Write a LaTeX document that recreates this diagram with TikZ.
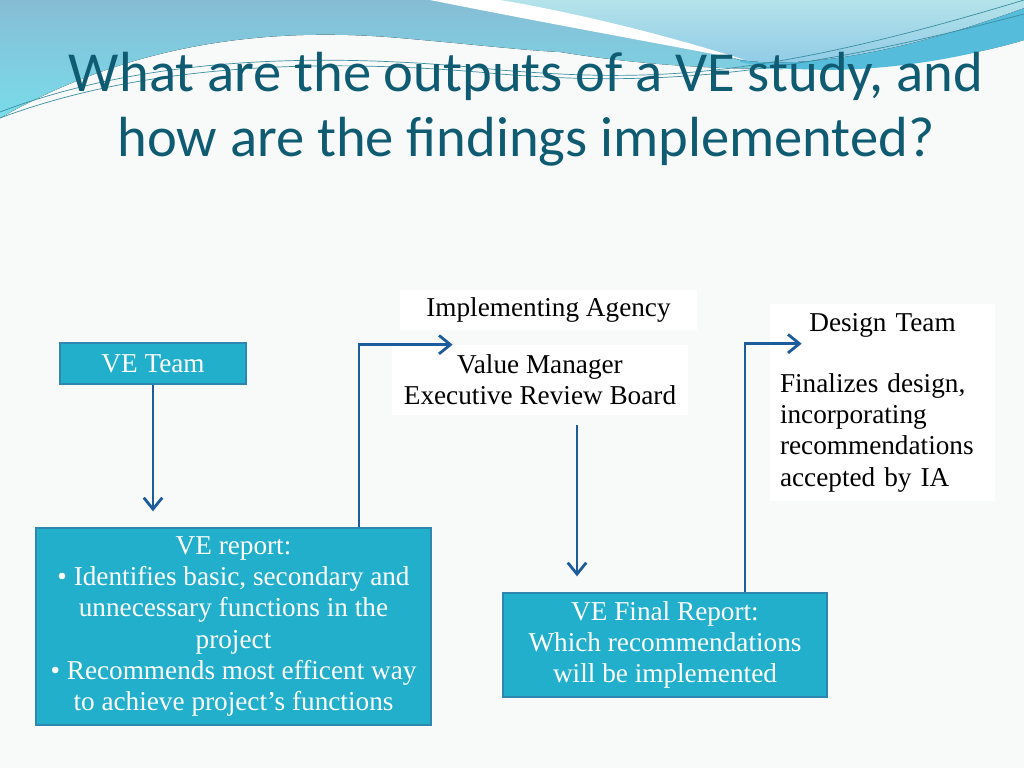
\documentclass[tikz,border=0pt]{standalone}
\usepackage{fontspec}
\usepackage{xcolor}
\usepackage{tikz}
\usetikzlibrary{arrows.meta, positioning, calc}
\setmainfont{Liberation Serif}
\newfontfamily\titlefont{Carlito}
\definecolor{pagewhite}{RGB}{248, 249, 249}
\definecolor{headblue}{RGB}{134, 189, 213}
\definecolor{headcyan}{RGB}{121, 220, 234}
\definecolor{bowltop}{RGB}{180, 227, 234}
\definecolor{bowlbottom}{RGB}{140, 200, 230}
\definecolor{stripcyan}{RGB}{85, 188, 219}
\definecolor{swooshline}{RGB}{58, 143, 160}
\definecolor{titleteal}{RGB}{15, 91, 114}
\definecolor{boxteal}{RGB}{34, 175, 204}
\definecolor{boxedge}{RGB}{47, 134, 174}
\definecolor{arrowblue}{RGB}{29, 92, 155}
\newcommand{\boxfont}{\fontsize{15.5}{17.8}\selectfont}

\begin{document}
\begin{tikzpicture}[x=0.02cm, y=-0.02cm,
    tealbox/.style={rectangle, draw=boxedge, fill=boxteal, line width=0.8pt, text=white, font=\boxfont, align=center},
    plain/.style={rectangle, fill=white, font=\boxfont, align=center},
    arrow/.style={-{Straight Barb[length=6.5pt, width=10.5pt]}, line width=1.6pt, arrowblue}
]
    % Page
    \fill[pagewhite] (0,0) rectangle (1024,768);
    \useasboundingbox (0,0) rectangle (1024,768);

    % Header swoosh
    \fill[top color=headblue, bottom color=headcyan] (0,0) -- (1024,0) -- (1024,40)
        .. controls (900,78) and (700,75) .. (560,52)
        .. controls (520,50) and (480,45) .. (400,38)
        .. controls (250,25) and (120,50) .. (0,118) -- cycle;
    \fill[stripcyan] (740,60) .. controls (830,72) and (950,35) .. (1024,8) -- (1024,40)
        .. controls (900,76) and (800,74) .. (740,62) -- cycle;
    \fill[top color=bowltop, bottom color=bowlbottom] (480,0)
        .. controls (560,12) and (650,32) .. (740,60)
        .. controls (830,72) and (950,35) .. (1024,8) -- (1024,0) -- cycle;
    \fill[white] (430,0) .. controls (540,22) and (640,40) .. (745,60)
        .. controls (650,30) and (560,10) .. (500,0) -- cycle;
    \draw[swooshline, line width=0.4pt] (0,112) .. controls (150,55) and (330,52) .. (500,70)
        .. controls (650,82) and (760,80) .. (1024,0);
    \draw[swooshline, line width=0.4pt] (0,118) .. controls (150,62) and (330,58) .. (500,74)
        .. controls (650,86) and (780,78) .. (1024,14);

    % Title
    \node[font=\titlefont\fontsize{32.2}{37}\selectfont, text=titleteal, align=center] (title) at (526,109)
        {What are the outputs of a VE study, and\\how are the findings implemented?};

    % Boxes
    \node[tealbox, minimum width=3.72cm, minimum height=0.82cm] (veteam) at (153,363.5) {VE Team};
    \node[tealbox, minimum width=7.9cm, minimum height=3.94cm] (report) at (233.5,626.5)
        {VE report:\\\textbullet\ Identifies basic, secondary and\\unnecessary functions in the\\project\\\textbullet\ Recommends most efficent way\\to achieve project’s functions};
    \node[plain, minimum width=5.94cm, minimum height=0.8cm] (agency) at (548.5,310) {Implementing Agency};
    \node[plain, minimum width=5.92cm, minimum height=1.4cm] (board) at (540,380)
        {Value Manager\\Executive Review Board};
    \node[tealbox, minimum width=6.48cm, minimum height=2.08cm] (final) at (665,645)
        {VE Final Report:\\Which recommendations\\will be implemented};
    \node[plain, align=left, text width=4.1cm, minimum height=3.94cm, inner xsep=0.2cm] (design) at (882.5,402.5)
        {\makebox[4.1cm]{Design Team}\\[0.6cm]Finalizes design,\\incorporating\\recommendations\\accepted by IA};

    % Arrows
    \draw[arrow, shorten >=0.32cm] (veteam.south) -- (veteam.south |- report.north);
    \draw[arrow] ([xshift=2.51cm]report.north) |- ([xshift=1.22cm]board.north west);
    \draw[arrow, shorten <=0.2cm, shorten >=0.32cm] ([xshift=0.74cm]board.south) -- ([xshift=0.74cm]board.south |- final.north);
    \draw[arrow] ([xshift=1.6cm]final.north) |- ([xshift=0.64cm, yshift=-0.8cm]design.north west);
\end{tikzpicture}
\end{document}
